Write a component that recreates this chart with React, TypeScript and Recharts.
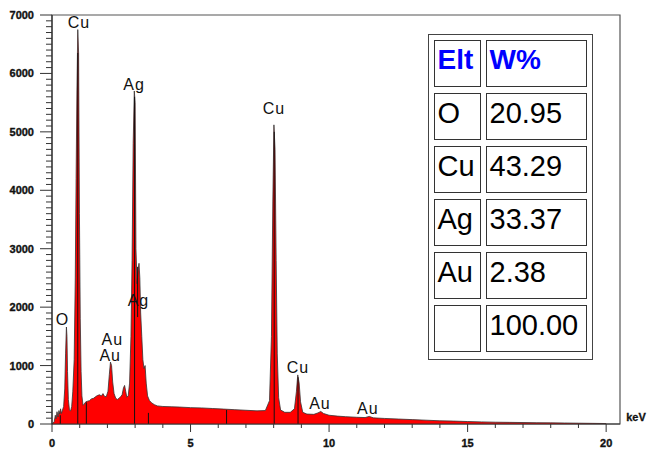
import React from "react";
import { AreaChart, Area, XAxis, YAxis, ReferenceDot, ReferenceLine, ReferenceArea } from "recharts";

// EDS spectrum: [energy keV, counts]
const spectrum: [number, number][] = [
  [0.0, 0], [0.08, 40], [0.12, 150], [0.15, 90], [0.18, 210], [0.22, 120], [0.25, 230], [0.28, 170],
  [0.31, 260], [0.34, 180], [0.38, 240], [0.42, 300], [0.46, 600], [0.49, 1200], [0.52, 1660],
  [0.54, 1500], [0.56, 900], [0.59, 420], [0.63, 240], [0.67, 220], [0.71, 300], [0.75, 550],
  [0.8, 1100], [0.84, 2500], [0.87, 4200], [0.9, 5700], [0.93, 6750], [0.96, 6350], [0.99, 3600],
  [1.02, 1800], [1.05, 900], [1.08, 480], [1.12, 320], [1.16, 340], [1.22, 380], [1.28, 390],
  [1.35, 400], [1.42, 430], [1.5, 440], [1.58, 470], [1.65, 490], [1.72, 500], [1.78, 480],
  [1.84, 520], [1.9, 470], [1.96, 470], [2.02, 560], [2.07, 850], [2.11, 1060], [2.15, 1000],
  [2.19, 720], [2.24, 520], [2.3, 440], [2.36, 420], [2.42, 440], [2.48, 470], [2.53, 500],
  [2.58, 620], [2.62, 660], [2.66, 560], [2.7, 460], [2.75, 480], [2.8, 700], [2.85, 1500],
  [2.89, 2800], [2.93, 4800], [2.97, 5700], [3.0, 5500], [3.03, 3000], [3.07, 2400], [3.1, 2600],
  [3.14, 2750], [3.17, 2500], [3.2, 1900], [3.24, 1500], [3.28, 1100], [3.32, 950], [3.36, 1000],
  [3.4, 700], [3.45, 480], [3.52, 400], [3.6, 360], [3.7, 330], [3.8, 310], [3.9, 305], [4.0, 300],
  [4.3, 295], [4.6, 290], [5.0, 280], [5.4, 275], [5.8, 265], [6.2, 255], [6.6, 245], [7.0, 235],
  [7.4, 225], [7.7, 230], [7.85, 400], [7.92, 1500], [7.97, 3800], [8.01, 5120], [8.05, 4700],
  [8.09, 2800], [8.13, 1200], [8.18, 450], [8.25, 240], [8.4, 200], [8.6, 200], [8.75, 260],
  [8.82, 550], [8.87, 840], [8.92, 700], [8.97, 380], [9.05, 200], [9.2, 170], [9.45, 165],
  [9.6, 190], [9.7, 215], [9.8, 180], [10.0, 150], [10.3, 135], [10.6, 125], [11.0, 115],
  [11.3, 110], [11.45, 130], [11.6, 105], [12.0, 95], [12.5, 85], [13.0, 75], [13.5, 65],
  [14.0, 55], [14.5, 50], [15.0, 42], [15.5, 36], [16.0, 31], [16.5, 28], [17.0, 25], [17.5, 22],
  [18.0, 20], [18.5, 17], [19.0, 14], [19.5, 11], [20.0, 8],
];

// Peak labels: [text, keV, counts]
const peakLabels: [string, number, number][] = [
  ["Cu", 0.97, 6880], ["Ag", 2.96, 5822], ["Cu", 8.01, 5400], ["O", 0.38, 1790],
  ["Au", 2.18, 1450], ["Au", 2.1, 1180], ["Ag", 3.12, 2110], ["Cu", 8.88, 976],
  ["Au", 9.67, 360], ["Au", 11.4, 274],
];

// Marker lines: [keV, from counts, to counts]
const markers: [number, number, number][] = [
  [0.3, 0, 150], [0.93, 0, 6350], [1.24, 0, 370], [2.98, 0, 5600], [3.09, 1830, 2690],
  [3.48, 0, 190], [6.3, 0, 240], [8.02, 0, 5000], [8.88, 0, 800],
];

// Composition table
const elements = ["O", "Cu", "Ag", "Au", ""];
const weights = ["20.95", "43.29", "33.37", "2.38", "100.00"];

const xTicks = Array.from({ length: 21 }, (_, i) => i);
const yTicks = Array.from({ length: 71 }, (_, i) => i * 100);

const data = spectrum.map(([e, c]) => ({ e, c }));

const tickFont = "'Liberation Sans', Arial, sans-serif";

const XTick = (props: any) => {
  const { x, y, payload } = props;
  const v = payload.value;
  const major = v % 5 === 0;
  return (
    <g>
      <line x1={x} x2={x} y1={y} y2={y + (major ? 8 : 4)} stroke="#333" strokeWidth={1} />
      {major && (
        <text x={x} y={y + 23} textAnchor="middle" fontFamily={tickFont} fontWeight="bold" fontSize={11} fill="#111" stroke="#111" strokeWidth={0.35}>
          {v}
        </text>
      )}
    </g>
  );
};

const YTick = (props: any) => {
  const { x, y, payload } = props;
  const v = payload.value;
  const major = v % 1000 === 0;
  return (
    <g>
      <line x1={x - (major ? 12 : 6)} x2={x} y1={y} y2={y} stroke="#333" strokeWidth={1} />
      {major && (
        <text x={x - 18} y={y + 4} textAnchor="end" fontFamily={tickFont} fontWeight="bold" fontSize={11} fill="#111" stroke="#111" strokeWidth={0.35}>
          {v}
        </text>
      )}
    </g>
  );
};

export default function App() {
  return (
    <div style={{ position: "absolute", left: 0, top: 0, width: 648, height: 452, background: "#fff" }}>
      <AreaChart width={648} height={452} data={data} margin={{ top: 15, right: 28, bottom: 0, left: 0 }}>
        <XAxis
          dataKey="e"
          type="number"
          domain={[0, 20.5]}
          ticks={xTicks}
          interval={0}
          tickSize={0}
          tickMargin={0}
          tickLine={false}
          height={28}
          axisLine={{ stroke: "#333", strokeWidth: 1.2 }}
          tick={<XTick />}
        />
        <YAxis
          type="number"
          domain={[0, 7000]}
          ticks={yTicks}
          interval={0}
          tickSize={0}
          tickMargin={0}
          tickLine={false}
          width={52}
          axisLine={{ stroke: "#333", strokeWidth: 1.2 }}
          tick={<YTick />}
        />
        <ReferenceArea x1={0} x2={20.5} y1={0} y2={7000} fill="none" stroke="#555" strokeWidth={1.2} />
        <Area
          type="linear"
          dataKey="c"
          stroke="#333"
          strokeWidth={0.8}
          fill="#ff0000"
          fillOpacity={1}
          dot={false}
          activeDot={false}
          isAnimationActive={false}
        />
        {markers.map(([e, a, b], i) => (
          <ReferenceLine key={"m" + i} segment={[{ x: e, y: a }, { x: e, y: b }]} stroke="#111" strokeWidth={1} />
        ))}
        {peakLabels.map(([t, e, c], i) => (
          <ReferenceDot
            key={"p" + i}
            x={e}
            y={c}
            r={0}
            fill="none"
            stroke="none"
            label={{
              value: t,
              position: "center",
              fontFamily: tickFont,
              fontSize: 16,
              letterSpacing: 1,
              fill: "#111",
            }}
          />
        ))}
      </AreaChart>
      <div
        style={{
          position: "absolute",
          left: 636,
          top: 417,
          transform: "translate(-50%, -50%)",
          fontFamily: tickFont,
          fontWeight: "bold",
          fontSize: 11,
          color: "#111",
          WebkitTextStroke: "0.3px #111",
        }}
      >
        keV
      </div>
      <div
        style={{
          position: "absolute",
          left: 428,
          top: 34,
          width: 165,
          height: 326,
          boxSizing: "border-box",
          border: "1.5px solid #444",
          padding: "5px 4.5px",
          background: "#fff",
          display: "grid",
          gridTemplateColumns: "47px 101px",
          gridTemplateRows: "repeat(6, 47px)",
          columnGap: 5,
          rowGap: 6.1,
          fontFamily: tickFont,
        }}
      >
        {[["Elt", "W%"], ...elements.map((el, i) => [el, weights[i]])].map((row, r) =>
          row.map((txt, c) => (
            <div
              key={r + "-" + c}
              style={{
                boxSizing: "border-box",
                border: "1.5px solid #333",
                display: "flex",
                alignItems: "center",
                paddingLeft: 3,
                paddingBottom: 7,
                fontSize: r === 0 ? 28 : 29,
                fontWeight: r === 0 ? "bold" : "normal",
                color: r === 0 ? "#0000ff" : "#000",
                whiteSpace: "nowrap",
              }}
            >
              {txt}
            </div>
          ))
        )}
      </div>
    </div>
  );
}
